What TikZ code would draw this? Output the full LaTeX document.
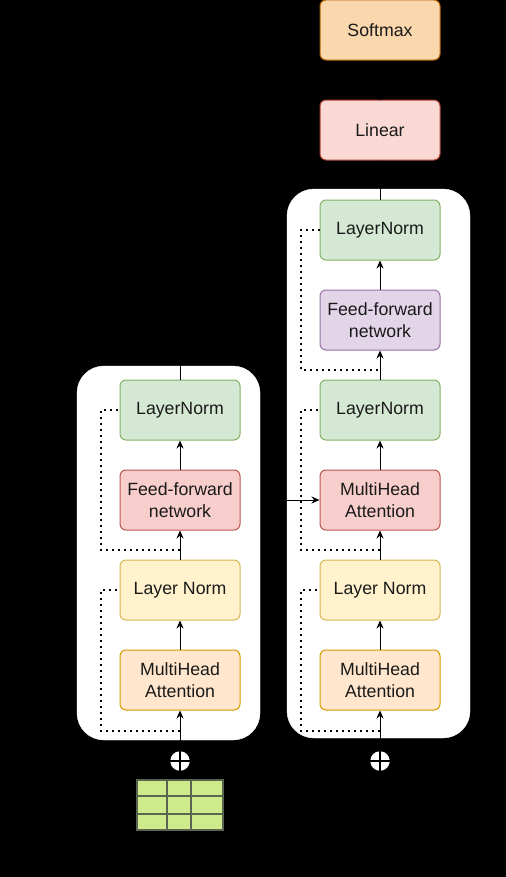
\documentclass[tikz,border=0pt]{standalone}
\usepackage{fontspec}
\setmainfont{Liberation Sans}
\usetikzlibrary{arrows.meta}
\definecolor{gfill}{HTML}{D5E8D4}\definecolor{gline}{HTML}{82B366}
\definecolor{rfill}{HTML}{F8CECC}\definecolor{rline}{HTML}{B85450}
\definecolor{yfill}{HTML}{FFF2CC}\definecolor{yline}{HTML}{D6B656}
\definecolor{ofill}{HTML}{FFE6CC}\definecolor{oline}{HTML}{D79B00}
\definecolor{pfill}{HTML}{E1D5E7}\definecolor{pline}{HTML}{9673A6}
\definecolor{sfill}{HTML}{FAD7AC}\definecolor{sline}{HTML}{B46504}
\definecolor{lfill}{HTML}{FAD9D5}\definecolor{lline}{HTML}{AE4132}
\definecolor{tfill}{HTML}{CDEB8B}\definecolor{tline}{HTML}{5A6450}
\definecolor{txt}{HTML}{1A1A1A}
\tikzset{
  blk/.style={rounded corners=6bp, minimum width=120bp, minimum height=60bp, draw, line width=1bp,
    font=\fontsize{17.8}{22}\selectfont, text=txt, align=center, inner sep=0pt},
  green/.style={blk, fill=gfill, draw=gline},
  redb/.style={blk, fill=rfill, draw=rline},
  yel/.style={blk, fill=yfill, draw=yline},
  orb/.style={blk, fill=ofill, draw=oline},
  pur/.style={blk, fill=pfill, draw=pline},
  smx/.style={blk, fill=sfill, draw=sline},
  lin/.style={blk, fill=lfill, draw=lline},
  cont/.style={fill=white, draw=white, rounded corners=27bp},
  arr/.style={line width=1bp, -{Stealth[length=8bp,width=7bp]}},
  res/.style={line width=1.6bp, dash pattern=on 1.6bp off 4.4bp, line cap=butt},
  plus/.style={circle, fill=white, draw=white, minimum size=19bp, inner sep=0pt},
}
\begin{document}
\begin{tikzpicture}[x=1bp,y=-1bp]
\fill[black] (0,0) rectangle (506,877);
\useasboundingbox (0,0) rectangle (506,877);
% containers
\draw[cont] (77,366) rectangle (260,740);
\draw[cont] (287,189) rectangle (470,738);
% encoder
\node[green] (eln2) at (180,410) {LayerNorm};
\node[redb] (effn) at (180,500) {Feed-forward\\network};
\node[yel] (eln1) at (180,590) {Layer Norm};
\node[orb] (emha) at (180,680) {MultiHead\\Attention};
% decoder
\node[smx] (soft) at (380,30) {Softmax};
\node[lin] (lin) at (380,130) {Linear};
\node[green] (dln3) at (380,230) {LayerNorm};
\node[pur] (dffn) at (380,320) {Feed-forward\\network};
\node[green] (dln2) at (380,410) {LayerNorm};
\node[redb] (dmha2) at (380,500) {MultiHead\\Attention};
\node[yel] (dln1) at (380,590) {Layer Norm};
\node[orb] (dmha1) at (380,680) {MultiHead\\Attention};
% plus circles
\node[plus] (ep) at (180,761) {};
\node[plus] (dp) at (380,761) {};
\foreach \p in {ep,dp}{
  \draw[line width=1.4bp] (\p.north) -- (\p.south);
  \draw[line width=1.4bp] (\p.west) -- (\p.east);
}
% token grid
\draw[fill=tfill, draw=tline, line width=1.2bp] (137,780) rectangle (223,830);
\draw[draw=tline, line width=1.2bp] (167,780) -- (167,830) (191,780) -- (191,830)
  (137,796) -- (223,796) (137,814) -- (223,814);
\node[inner sep=0pt, minimum width=86bp, minimum height=50bp] (grid) at (180,805) {};
% encoder arrows
\draw[arr] (ep) -- (emha);
\draw[arr] (emha) -- (eln1);
\draw[arr] (eln1) -- (effn);
\draw[arr] (effn) -- (eln2);
\coordinate (eturn1) at (180,350);
\coordinate (eturn2) at (274,350);
\coordinate (eturn3) at (274,500);
\draw[arr] (eln2.north) -- (eturn1) -- (eturn2) -- (eturn3) -- (dmha2.west);
% decoder arrows
\draw[arr] (dp) -- (dmha1);
\draw[arr] (dmha1) -- (dln1);
\draw[arr] (dln1) -- (dmha2);
\draw[arr] (dmha2) -- (dln2);
\draw[arr] (dln2) -- (dffn);
\draw[arr] (dffn) -- (dln3);
\draw[arr] (dln3) -- (lin);
\draw[arr] (lin) -- (soft);
% residual dotted
\coordinate (er1a) at (180,731); \coordinate (er1b) at (101,731); \coordinate (er1c) at (101,590);
\draw[res] (er1a) -- (er1b) -- (er1c) -- (eln1.west);
\coordinate (er2a) at (180,550); \coordinate (er2b) at (101,550); \coordinate (er2c) at (101,410);
\draw[res] (er2a) -- (er2b) -- (er2c) -- (eln2.west);
\coordinate (dr1a) at (380,731); \coordinate (dr1b) at (301,731); \coordinate (dr1c) at (301,590);
\draw[res] (dr1a) -- (dr1b) -- (dr1c) -- (dln1.west);
\coordinate (dr2a) at (380,550); \coordinate (dr2b) at (301,550); \coordinate (dr2c) at (301,410);
\draw[res] (dr2a) -- (dr2b) -- (dr2c) -- (dln2.west);
\coordinate (dr3a) at (378,370); \coordinate (dr3b) at (301,370); \coordinate (dr3c) at (301,230);
\draw[res] (dr3a) -- (dr3b) -- (dr3c) -- (dln3.west);
\end{tikzpicture}
\end{document}
